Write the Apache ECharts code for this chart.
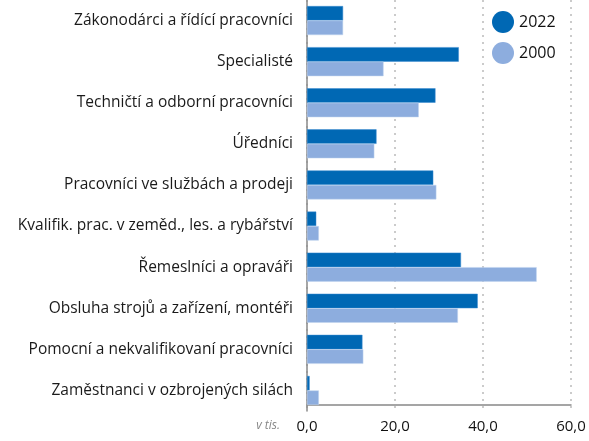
<!DOCTYPE html>
<html><head><meta charset="utf-8">
<script src="https://cdn.jsdelivr.net/npm/echarts@6/dist/echarts.min.js"></script>
<style>html,body{margin:0;padding:0;background:#fff}#c{width:589px;height:441px}</style>
</head><body><div id="c"></div>
<script>
const categories = [
  'Zákonodárci a řídící pracovníci',
  'Specialisté',
  'Techničtí a odborní pracovníci',
  'Úředníci',
  'Pracovníci ve službách a prodeji',
  'Kvalifik. prac. v zeměd., les. a rybářství',
  'Řemeslníci a opraváři',
  'Obsluha strojů a zařízení, montéři',
  'Pomocní a nekvalifikovaní pracovníci',
  'Zaměstnanci v ozbrojených silách'
];
const values2022 = [8.2, 34.5, 29.2, 15.8, 28.7, 2.1, 35.0, 38.8, 12.6, 0.6];
const values2000 = [8.2, 17.4, 25.4, 15.3, 29.4, 2.7, 52.2, 34.3, 12.8, 2.7];
const seriesNames = ['2022', '2000'];
const unitLabel = 'v tis.';

const font = 'Open Sans';
const chart = echarts.init(document.getElementById('c'), null, {renderer: 'canvas'});
chart.setOption({
  animation: false,
  textStyle: {fontFamily: font},
  grid: {left: 307, right: 18, top: -4, bottom: 30, containLabel: false},
  legend: {
    data: seriesNames,
    orient: 'vertical',
    left: 487, top: 6,
    icon: 'circle',
    itemWidth: 22, itemHeight: 22, itemGap: 9,
    itemStyle: {borderWidth: 0},
    textStyle: {fontSize: 16, color: '#111', fontFamily: font}
  },
  xAxis: {
    type: 'value', min: 0, max: 60, interval: 20,
    offset: -6,
    axisLine: {show: true, lineStyle: {color: '#888', width: 1.5}},
    axisTick: {show: false},
    axisLabel: {fontSize: 15, color: '#111', margin: 14,
      formatter: v => v.toFixed(1).replace('.', ',')},
    splitLine: {show: true, lineStyle: {color: '#bbb', type: [2, 5], width: 1.5}}
  },
  yAxis: {
    type: 'category', data: categories, inverse: true,
    axisLine: {show: true, lineStyle: {color: '#888', width: 1.5}},
    axisTick: {show: false},
    axisLabel: {fontSize: 15.5, color: '#1a1a1a', margin: 14}
  },
  series: [
    {name: seriesNames[0], type: 'bar', data: values2022, barWidth: 14.5, barGap: '0%',
     itemStyle: {color: '#0068b4', borderColor: '#3a8ad0', borderWidth: 0.5}},
    {name: seriesNames[1], type: 'bar', data: values2000, barWidth: 14.5, barGap: '0%',
     itemStyle: {color: '#8dadde', borderColor: '#c0d4ef', borderWidth: 0.5}}
  ],
  graphic: [{
    type: 'text', right: 589 - 280, top: 420,
    style: {text: unitLabel, fontSize: 12, fontStyle: 'italic', fill: '#888', fontFamily: font}
  }]
});
</script></body></html>
